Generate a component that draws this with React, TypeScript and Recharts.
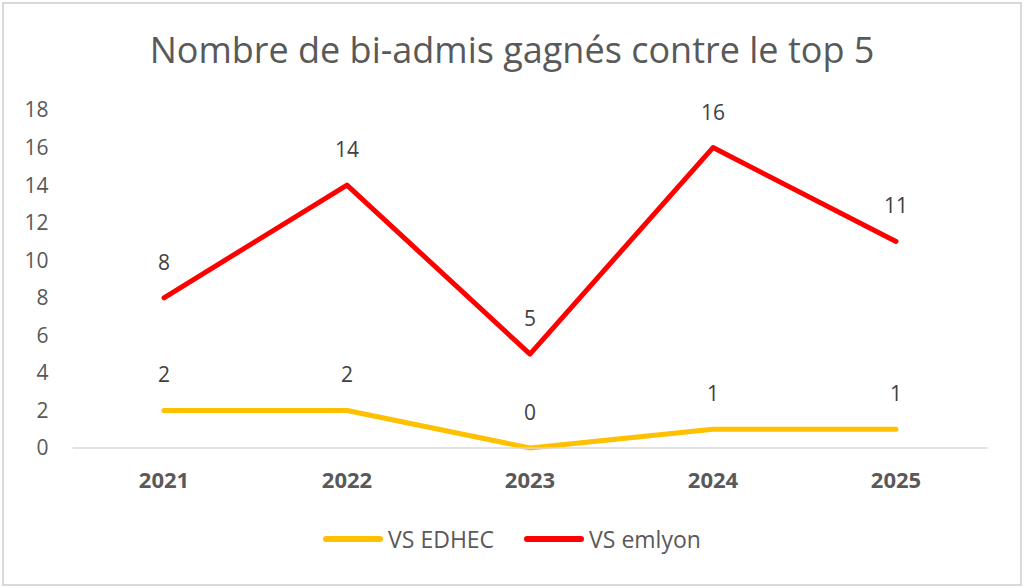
import { LineChart, Line, XAxis, YAxis, LabelList } from 'recharts'

const years = ['2021', '2022', '2023', '2024', '2025']
const vsEdhec = [2, 2, 0, 1, 1]
const vsEmlyon = [8, 14, 5, 16, 11]
const yTicks = [0, 2, 4, 6, 8, 10, 12, 14, 16, 18]

const data = years.map((year, i) => ({ year, edhec: vsEdhec[i], emlyon: vsEmlyon[i] }))

const FONT = '"Open Sans", sans-serif'
const YELLOW = '#FFC000'
const RED = '#FF0000'

const legendItems = [
  { name: 'VS EDHEC', color: YELLOW },
  { name: 'VS emlyon', color: RED },
]

function ValueLabel(props: any) {
  const { x, y, value } = props
  return (
    <text x={x} y={y - 36} textAnchor="middle" dominantBaseline="central" fill="#404040" fontSize={21} fontFamily={FONT}>
      {value}
    </text>
  )
}

export default function App() {
  return (
    <div style={{ position: 'absolute', left: 0, top: 0, width: 1024, height: 588, background: '#fff' }}>
      <div style={{ position: 'absolute', left: 2, top: 2, width: 1016, height: 580, border: '2px solid #d9d9d9' }} />
      <div style={{ position: 'absolute', left: 0, top: 25, width: 1024, textAlign: 'center', fontFamily: FONT, fontSize: 36, color: '#595959' }}>
        Nombre de bi-admis gagnés contre le top 5
      </div>
      <LineChart width={1024} height={588} data={data} margin={{ top: 110, right: 36.5, bottom: 100, left: 12.5 }}>
        <XAxis
          dataKey="year"
          padding={{ left: 91.5, right: 91.5 }}
          axisLine={{ stroke: '#d9d9d9', strokeWidth: 1.5 }}
          tickLine={false}
          height={40}
          tick={{ fill: '#595959', fontSize: 22, fontWeight: 700, fontFamily: FONT, dy: 16 }}
        />
        <YAxis
          domain={[0, 18]}
          ticks={yTicks}
          width={60}
          axisLine={false}
          tickLine={false}
          tick={{ fill: '#595959', fontSize: 21, fontFamily: FONT, dx: -16, textAnchor: 'end' }}
        />
        <Line dataKey="edhec" stroke={YELLOW} strokeWidth={5} dot={false} isAnimationActive={false} strokeLinecap="round" strokeLinejoin="round">
          <LabelList dataKey="edhec" content={<ValueLabel />} />
        </Line>
        <Line dataKey="emlyon" stroke={RED} strokeWidth={5} dot={false} isAnimationActive={false} strokeLinecap="round" strokeLinejoin="round">
          <LabelList dataKey="emlyon" content={<ValueLabel />} />
        </Line>
      </LineChart>
      <div style={{ position: 'absolute', left: 0, top: 523, width: 1024, display: 'flex', justifyContent: 'center', fontFamily: FONT, fontSize: 23, color: '#595959' }}>
        {legendItems.map((item, i) => (
          <div key={item.name} style={{ display: 'flex', alignItems: 'center', marginLeft: i > 0 ? 30 : 0 }}>
            <div style={{ width: 60, height: 6, borderRadius: 3, background: item.color, marginRight: 5 }} />
            <span>{item.name}</span>
          </div>
        ))}
      </div>
    </div>
  )
}
